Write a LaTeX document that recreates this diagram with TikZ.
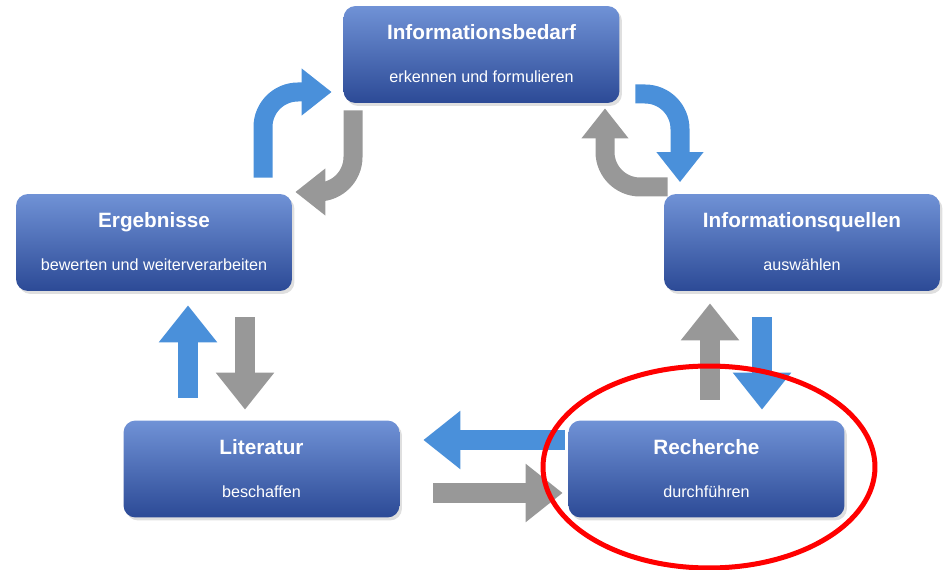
\documentclass[tikz,border=0pt]{standalone}
\usepackage{fontspec}
\setmainfont{Liberation Sans}
\usetikzlibrary{arrows.meta,shadows}
\definecolor{boxtop}{RGB}{112,146,214}
\definecolor{boxbot}{RGB}{44,74,150}
\definecolor{arrblue}{RGB}{74,144,218}
\definecolor{arrgray}{RGB}{152,152,152}

\begin{document}
\begin{tikzpicture}[x=0.02cm, y=-0.02cm,
    stage/.style={rectangle, rounded corners=0.24cm, minimum width=5.52cm, minimum height=1.94cm,
      top color=boxtop, bottom color=boxbot, draw=none,
      drop shadow={opacity=0.25, shadow xshift=0.05cm, shadow yshift=-0.06cm}},
    stagetitle/.style={anchor=base, text=white, font=\fontsize{11.8}{14}\selectfont\bfseries},
    stagesub/.style={anchor=base, text=white, font=\fontsize{9.2}{11}\selectfont},
    fat/.style={line width=0.4cm, -{Triangle[width=1.12cm, length=0.74cm]}},
    bent/.style={line width=0.38cm, rounded corners=0.7cm, -{Triangle[width=0.9cm, length=0.6cm]}}]
        \useasboundingbox (0,0) rectangle (944,570);
        % the five steps
        \foreach \nm/\cx/\cy/\ttl/\sub in {
            bedarf/481.5/54.5/Informationsbedarf/erkennen und formulieren,
            ergeb/154/242.5/Ergebnisse/bewerten und weiterverarbeiten,
            quellen/802/242.5/Informationsquellen/auswählen,
            lit/261.5/469/Literatur/beschaffen,
            rech/706.5/469/Recherche/durchführen}{
            \node[stage] (\nm) at (\cx,\cy) {};
            \node[stagetitle] (\nm-t) at (\cx,\cy-14.5) {\ttl};
            \node[stagesub] (\nm-s) at (\cx,\cy+28.5) {\sub};
        }
        % bent arrows at the top
        \draw[bent, arrblue, shorten <=0.32cm, shorten >=0.23cm] (263,0 |- ergeb.north) |- (bedarf.west |- 0,92);
        \draw[bent, arrgray, shorten <=0.14cm, shorten >=0.06cm] (353,0 |- bedarf.south) |- (ergeb.east |- 0,192);
        \draw[bent, arrblue, shorten <=0.31cm, shorten >=0.23cm] (bedarf.east |- 0,94) -| (680,0 |- quellen.north);
        \draw[bent, arrgray, shorten <=-0.08cm, shorten >=0.1cm] (quellen.west |- 0,187) -| (605,0 |- bedarf.south);
        % straight arrows
        \draw[fat, arrblue, shorten <=0.45cm, shorten >=0.28cm] (188,0 |- lit.north) -- (188,0 |- ergeb.south);
        \draw[fat, arrgray, shorten <=0.52cm, shorten >=0.21cm] (245,0 |- ergeb.south) -- (245,0 |- lit.north);
        \draw[fat, arrgray, shorten <=0.41cm, shorten >=0.24cm] (710,0 |- rech.north) -- (710,0 |- quellen.south);
        \draw[fat, arrblue, shorten <=0.52cm, shorten >=0.21cm] (762,0 |- quellen.south) -- (762,0 |- rech.north);
        \draw[fat, arrblue, shorten <=0.07cm, shorten >=0.47cm] (rech.west |- 0,440) -- (lit.east |- 0,440);
        \draw[fat, arrgray, shorten <=0.67cm, shorten >=0.11cm] (lit.east |- 0,493) -- (rech.west |- 0,493);
        % highlight
        \draw[red, line width=0.1cm] (709,467) ellipse [x radius=3.32cm, y radius=2.02cm];
\end{tikzpicture}
\end{document}
